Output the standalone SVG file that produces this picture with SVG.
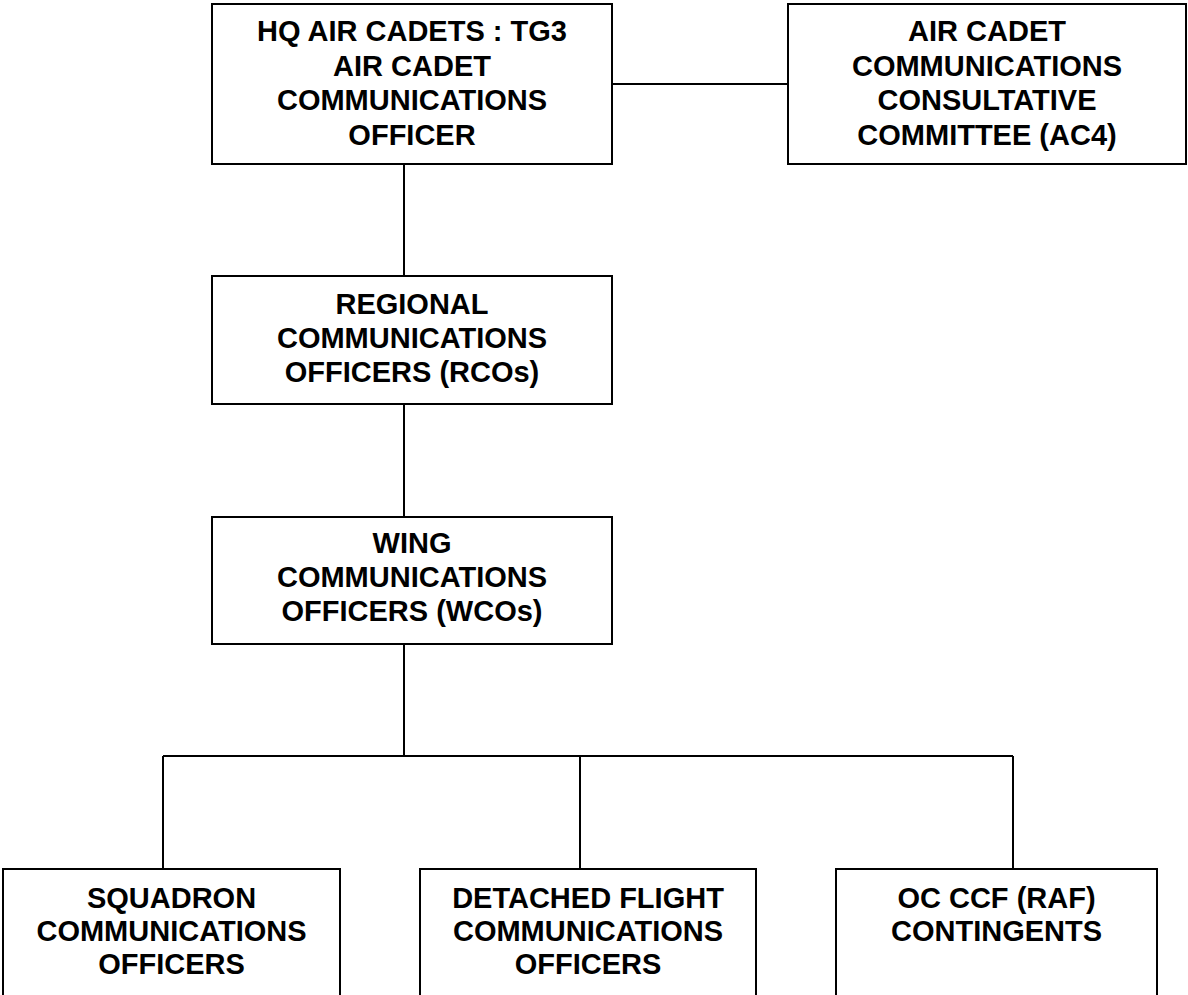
<svg xmlns="http://www.w3.org/2000/svg" width="1188" height="995" viewBox="0 0 1188 995">
<style>
.box{fill:#fff;stroke:#000;stroke-width:2}
.con{fill:none;stroke:#000;stroke-width:2}
text{font-family:"Liberation Sans",Arial,sans-serif;font-weight:bold;font-size:29px;fill:#000;text-anchor:middle}
</style>
<rect width="1188" height="995" fill="#fff"/>
<g id="connectors">
<line class="con" x1="612" y1="84" x2="788" y2="84"/>
<line class="con" x1="404" y1="164" x2="404" y2="276"/>
<line class="con" x1="404" y1="404" x2="404" y2="517"/>
<line class="con" x1="404" y1="644" x2="404" y2="756"/>
<line class="con" x1="163" y1="756" x2="1013" y2="756"/>
<line class="con" x1="163" y1="756" x2="163" y2="869"/>
<line class="con" x1="580" y1="756" x2="580" y2="869"/>
<line class="con" x1="1013" y1="756" x2="1013" y2="869"/>
</g>
<g id="hq">
<rect class="box" x="212" y="4" width="400" height="160"/>
<text x="412" y="41">HQ AIR CADETS : TG3</text>
<text x="412" y="75.5">AIR CADET</text>
<text x="412" y="110">COMMUNICATIONS</text>
<text x="412" y="144.5">OFFICER</text>
</g>
<g id="ac4">
<rect class="box" x="788" y="4" width="398" height="160"/>
<text x="987" y="41">AIR CADET</text>
<text x="987" y="75.5">COMMUNICATIONS</text>
<text x="987" y="110">CONSULTATIVE</text>
<text x="987" y="144.5">COMMITTEE (AC4)</text>
</g>
<g id="rco">
<rect class="box" x="212" y="276" width="400" height="128"/>
<text x="412" y="314">REGIONAL</text>
<text x="412" y="348">COMMUNICATIONS</text>
<text x="412" y="382">OFFICERS (RCOs)</text>
</g>
<g id="wco">
<rect class="box" x="212" y="517" width="400" height="127"/>
<text x="412" y="553">WING</text>
<text x="412" y="587">COMMUNICATIONS</text>
<text x="412" y="621">OFFICERS (WCOs)</text>
</g>
<g id="squadron">
<rect class="box" x="3" y="869" width="337" height="140"/>
<text x="171.5" y="907.5">SQUADRON</text>
<text x="171.5" y="940.5">COMMUNICATIONS</text>
<text x="171.5" y="974">OFFICERS</text>
</g>
<g id="detached">
<rect class="box" x="420" y="869" width="336" height="140"/>
<text x="588" y="907.5">DETACHED FLIGHT</text>
<text x="588" y="940.5">COMMUNICATIONS</text>
<text x="588" y="974">OFFICERS</text>
</g>
<g id="ccf">
<rect class="box" x="836" y="869" width="321" height="140"/>
<text x="996.5" y="907.5">OC CCF (RAF)</text>
<text x="996.5" y="940.5">CONTINGENTS</text>
</g>
</svg>
